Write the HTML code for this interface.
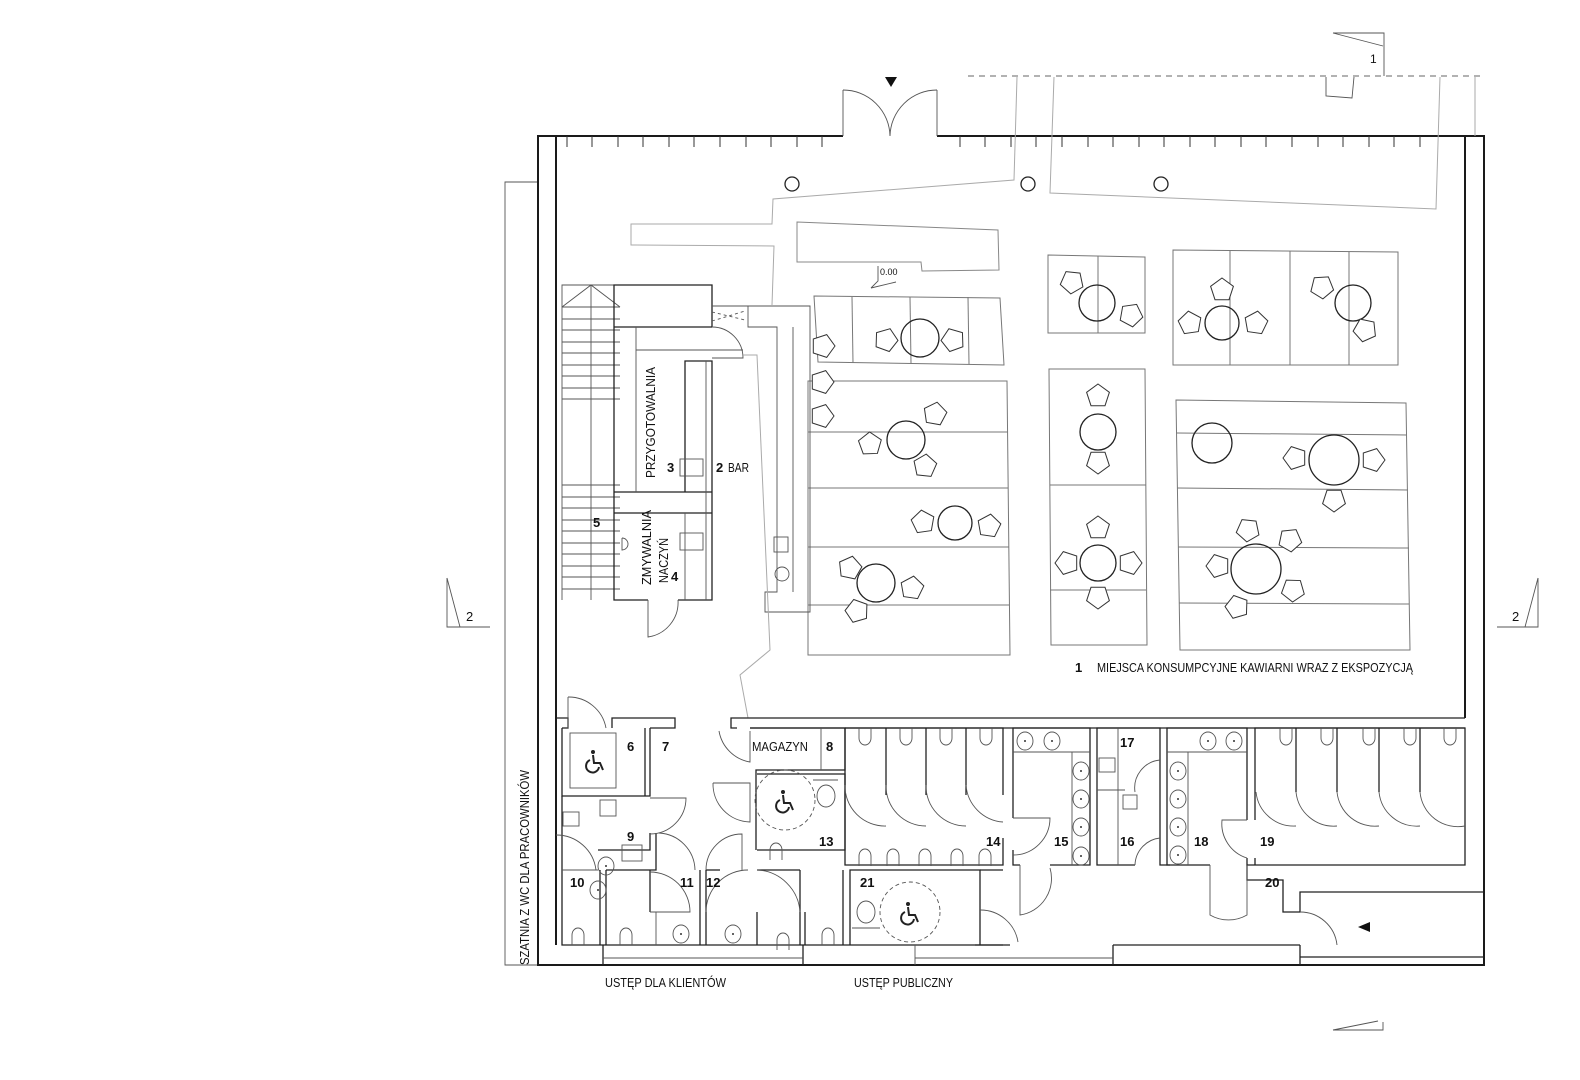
<!DOCTYPE html>
<html><head><meta charset="utf-8"><style>
html,body{margin:0;padding:0;background:#fff}
svg{display:block}
text{font-family:"Liberation Sans",sans-serif;fill:#111}
.w{stroke:#1a1a1a;stroke-width:2;fill:none}
.p{stroke:#222;stroke-width:1.3;fill:none}
.t{stroke:#555;stroke-width:0.9;fill:none}
.g{stroke:#aaa;stroke-width:1;fill:none}
.b{font-weight:bold;font-size:13px}
.n{font-size:13px}
</style></head><body>
<svg width="1580" height="1080" viewBox="0 0 1580 1080" xmlns="http://www.w3.org/2000/svg">
<defs>
<path id="pt" d="M0,-12 L11.4,-3.7 L7,9.7 L-7,9.7 L-11.4,-3.7Z" fill="#fff" stroke="#333" stroke-width="1"/>
<g id="wc"><path d="M-6,10 L-6,0 A6,7 0 0 1 6,0 L6,10" class="t"/></g>
<g id="wcu"><path d="M-6,-10 L-6,0 A6,7 0 0 0 6,0 L6,-10" class="t"/></g>
<g id="sink"><ellipse cx="0" cy="0" rx="8" ry="9" class="t"/><circle cx="0" cy="0" r="1" fill="#333"/></g>
<g id="wh" fill="none" stroke="#222" stroke-width="2">
<circle cx="-2" cy="-10" r="2" fill="#222" stroke="none"/>
<path d="M-2,-7 L-1,1 L5,1 L8,8"/>
<path d="M-5,-2 A6.5,6.5 0 1 0 4,5"/>
</g>
</defs>

<!-- section markers -->
<polyline class="t" points="1333,33 1384,33 1384,76"/><line class="t" x1="1333" y1="33" x2="1383" y2="46"/>
<text x="1370" y="63" font-size="12" fill="#555">1</text>
<line x1="968" y1="76" x2="1484" y2="76" stroke="#666" stroke-dasharray="6,5"/>
<polyline class="t" points="1326,77 1326,96 1352,98 1354,77"/>
<polyline class="t" points="447,578 447,627 490,627"/><line class="t" x1="447" y1="578" x2="460" y2="627"/>
<text x="466" y="621" font-size="13" fill="#555">2</text>
<polyline class="t" points="1538,578 1538,627 1497,627"/><line class="t" x1="1538" y1="578" x2="1525" y2="627"/>
<text x="1512" y="621" font-size="13" fill="#555">2</text>
<polyline class="t" points="1333,1030 1383,1030 1383,1022"/><line class="t" x1="1333" y1="1030" x2="1378" y2="1021"/>

<!-- bracket for staff -->
<polyline class="t" points="538,182 505,182 505,965 538,965"/>
<text transform="translate(529,965) rotate(-90)" font-size="13" textLength="195" lengthAdjust="spacingAndGlyphs">SZATNIA Z WC DLA PRACOWNIKÓW</text>

<!-- outer walls -->
<polyline class="w" points="843,136 538,136 538,965 1484,965 1484,136 937,136"/>
<line class="w" x1="556" y1="136" x2="556" y2="945"/>
<line class="w" x1="1465" y1="136" x2="1465" y2="718"/>
<line x1="843" y1="136" x2="843" y2="90" class="t"/><line x1="937" y1="136" x2="937" y2="90" class="t"/>
<path class="t" d="M843,90 A47,47 0 0 1 890,136 M937,90 A47,47 0 0 0 890,136"/>
<path d="M885,77 L897,77 L891,87Z" fill="#111"/>
<g stroke="#333" stroke-width="1">
<line x1="567" y1="136" x2="567" y2="147"/><line x1="592" y1="136" x2="592" y2="147"/><line x1="618" y1="136" x2="618" y2="147"/><line x1="643" y1="136" x2="643" y2="147"/><line x1="669" y1="136" x2="669" y2="147"/><line x1="694" y1="136" x2="694" y2="147"/><line x1="720" y1="136" x2="720" y2="147"/><line x1="746" y1="136" x2="746" y2="147"/><line x1="771" y1="136" x2="771" y2="147"/><line x1="797" y1="136" x2="797" y2="147"/><line x1="822" y1="136" x2="822" y2="147"/>
<line x1="960" y1="136" x2="960" y2="147"/><line x1="985" y1="136" x2="985" y2="147"/><line x1="1011" y1="136" x2="1011" y2="147"/><line x1="1036" y1="136" x2="1036" y2="147"/><line x1="1062" y1="136" x2="1062" y2="147"/><line x1="1088" y1="136" x2="1088" y2="147"/><line x1="1113" y1="136" x2="1113" y2="147"/><line x1="1139" y1="136" x2="1139" y2="147"/><line x1="1164" y1="136" x2="1164" y2="147"/><line x1="1190" y1="136" x2="1190" y2="147"/><line x1="1215" y1="136" x2="1215" y2="147"/><line x1="1241" y1="136" x2="1241" y2="147"/><line x1="1266" y1="136" x2="1266" y2="147"/><line x1="1292" y1="136" x2="1292" y2="147"/><line x1="1318" y1="136" x2="1318" y2="147"/><line x1="1343" y1="136" x2="1343" y2="147"/><line x1="1369" y1="136" x2="1369" y2="147"/><line x1="1394" y1="136" x2="1394" y2="147"/><line x1="1420" y1="136" x2="1420" y2="147"/>
</g>

<!-- gray exhibition lines -->
<polyline class="g" points="1017,77 1014,180 773,199 772,224 631,224 631,245 774,246 772,305"/>
<polyline class="g" points="1054,77 1050,193 1436,209 1440,77"/>
<line class="g" x1="1475" y1="77" x2="1475" y2="136"/>
<polygon class="g" points="797,222 998,230 999,270 922,271 921,262 797,262" style="stroke:#888"/>
<circle cx="792" cy="184" r="7" class="p"/><circle cx="1028" cy="184" r="7" class="p"/><circle cx="1161" cy="184" r="7" class="p"/>
<polyline class="t" points="871,288 878,281 878,266"/><line class="t" x1="871" y1="288" x2="896" y2="282"/>
<text x="880" y="275" font-size="9">0.00</text>

<!-- tables areas -->
<g class="g" style="stroke:#777">
<polygon points="814,296 1000,298 1004,365 818,362"/>
<line x1="852" y1="297" x2="853" y2="363"/><line x1="910" y1="297" x2="911" y2="363"/><line x1="968" y1="297" x2="969" y2="364"/>
<polygon points="808,381 1007,381 1010,655 808,655"/>
<line x1="808" y1="432" x2="1008" y2="432"/><line x1="808" y1="488" x2="1008" y2="488"/><line x1="808" y1="547" x2="1009" y2="547"/><line x1="808" y1="605" x2="1009" y2="605"/>
<polygon points="1048,255 1145,257 1145,333 1048,333"/><line x1="1098" y1="256" x2="1098" y2="333"/>
<polygon points="1173,250 1398,252 1398,365 1173,365"/>
<line x1="1230" y1="251" x2="1230" y2="365"/><line x1="1290" y1="251" x2="1290" y2="365"/><line x1="1349" y1="252" x2="1349" y2="365"/>
<polygon points="1049,369 1145,369 1147,645 1051,645"/><line x1="1050" y1="485" x2="1146" y2="485"/><line x1="1050" y1="590" x2="1146" y2="590"/>
<polygon points="1176,400 1406,403 1410,650 1180,650"/>
<line x1="1177" y1="433" x2="1407" y2="435"/><line x1="1177" y1="488" x2="1408" y2="490"/><line x1="1178" y1="547" x2="1409" y2="548"/><line x1="1179" y1="603" x2="1409" y2="604"/>
</g>
<g class="p" fill="#fff">
<circle cx="920" cy="338" r="19"/><circle cx="906" cy="440" r="19"/><circle cx="955" cy="523" r="17"/><circle cx="876" cy="583" r="19"/>
<circle cx="1097" cy="303" r="18"/><circle cx="1222" cy="323" r="17"/><circle cx="1353" cy="303" r="18"/>
<circle cx="1098" cy="432" r="18"/><circle cx="1098" cy="563" r="18"/>
<circle cx="1212" cy="443" r="20"/><circle cx="1334" cy="460" r="25"/><circle cx="1256" cy="569" r="25"/>
</g>
<g>
<use href="#pt" transform="translate(886,340) rotate(20)"/><use href="#pt" transform="translate(953,340) rotate(-20)"/><use href="#pt" transform="translate(823,346) rotate(90)"/>
<use href="#pt" transform="translate(822,382) rotate(90)"/><use href="#pt" transform="translate(822,416) rotate(90)"/>
<use href="#pt" transform="translate(870,444) rotate(70)"/><use href="#pt" transform="translate(935,414) rotate(10)"/><use href="#pt" transform="translate(925,466) rotate(150)"/>
<use href="#pt" transform="translate(923,522) rotate(-80)"/><use href="#pt" transform="translate(989,526) rotate(80)"/>
<use href="#pt" transform="translate(850,568) rotate(-60)"/><use href="#pt" transform="translate(912,588) rotate(80)"/><use href="#pt" transform="translate(857,611) rotate(200)"/>
<use href="#pt" transform="translate(1072,282) rotate(-30)"/><use href="#pt" transform="translate(1131,315) rotate(100)"/>
<use href="#pt" transform="translate(1222,290)"/><use href="#pt" transform="translate(1190,323) rotate(-80)"/><use href="#pt" transform="translate(1256,323) rotate(80)"/>
<use href="#pt" transform="translate(1322,287) rotate(-40)"/><use href="#pt" transform="translate(1365,330) rotate(120)"/>
<use href="#pt" transform="translate(1098,396)"/><use href="#pt" transform="translate(1098,462) rotate(180)"/><use href="#pt" transform="translate(1098,528)"/>
<use href="#pt" transform="translate(1067,563) rotate(-90)"/><use href="#pt" transform="translate(1130,563) rotate(90)"/><use href="#pt" transform="translate(1098,597) rotate(180)"/>
<use href="#pt" transform="translate(1295,458) rotate(-90)"/><use href="#pt" transform="translate(1373,460) rotate(90)"/><use href="#pt" transform="translate(1334,500) rotate(180)"/>
<use href="#pt" transform="translate(1248,530) rotate(-30)"/><use href="#pt" transform="translate(1290,540) rotate(30)"/><use href="#pt" transform="translate(1218,566) rotate(-90)"/>
<use href="#pt" transform="translate(1293,590) rotate(110)"/><use href="#pt" transform="translate(1237,607) rotate(200)"/>
</g>

<!-- stairs -->
<g class="t">
<polyline points="562,600 562,285 620,285"/>
<polyline points="562,307 591,285 620,307"/><line x1="591" y1="285" x2="591" y2="600"/>
<line x1="562" y1="307" x2="620" y2="307"/><line x1="562" y1="319" x2="620" y2="319"/><line x1="562" y1="330" x2="620" y2="330"/><line x1="562" y1="342" x2="620" y2="342"/><line x1="562" y1="353" x2="620" y2="353"/><line x1="562" y1="365" x2="620" y2="365"/><line x1="562" y1="376" x2="620" y2="376"/><line x1="562" y1="388" x2="620" y2="388"/><line x1="562" y1="399" x2="620" y2="399"/>
<line x1="562" y1="485" x2="620" y2="485"/><line x1="562" y1="497" x2="620" y2="497"/><line x1="562" y1="508" x2="620" y2="508"/><line x1="562" y1="520" x2="620" y2="520"/><line x1="562" y1="531" x2="620" y2="531"/><line x1="562" y1="543" x2="620" y2="543"/><line x1="562" y1="554" x2="620" y2="554"/><line x1="562" y1="566" x2="620" y2="566"/><line x1="562" y1="577" x2="620" y2="577"/><line x1="562" y1="589" x2="620" y2="589"/>
</g>
<!-- kitchen block -->
<g class="p">
<polyline points="712,327 712,285 614,285 614,600 648,600"/>
<polyline points="678,600 712,600 712,361 685,361 685,492"/>
<line x1="614" y1="327" x2="712" y2="327"/>
<line x1="614" y1="492" x2="712" y2="492"/><line x1="614" y1="513" x2="712" y2="513"/>
<line x1="706" y1="361" x2="706" y2="600" class="t"/>
</g>
<g class="t">
<line x1="636" y1="327" x2="636" y2="492"/><line x1="636" y1="350" x2="743" y2="350"/>
<line x1="685" y1="513" x2="685" y2="600"/>
<path d="M712,327 A31,31 0 0 1 743,358 L712,358"/>
<path d="M648,600 L648,637 A35,35 0 0 0 678,600"/>
<rect x="680" y="459" width="23" height="17"/><rect x="680" y="533" width="23" height="17"/>
<path d="M622,538 L622,550 A6,6 0 0 0 622,538"/>
<polyline points="712,306 810,306 810,612 765,612 765,592 777,592 777,327 748,327 748,306"/>
<line x1="793" y1="327" x2="793" y2="592"/>
<line x1="712" y1="312" x2="745" y2="320" stroke-dasharray="3,3"/><line x1="712" y1="321" x2="745" y2="311" stroke-dasharray="3,3"/>
<rect x="774" y="537" width="14" height="15"/><circle cx="782" cy="574" r="7"/>
</g>
<polyline class="g" points="743,355 757,355 770,650 740,675 748,718"/>
<text transform="translate(655,478) rotate(-90)" font-size="13" textLength="111" lengthAdjust="spacingAndGlyphs">PRZYGOTOWALNIA</text>
<text x="667" y="472" class="b">3</text><text x="716" y="472" class="b">2</text><text x="728" y="472" class="n" textLength="21" lengthAdjust="spacingAndGlyphs">BAR</text>
<text x="593" y="527" class="b">5</text>
<text transform="translate(651,585) rotate(-90)" font-size="13" textLength="75" lengthAdjust="spacingAndGlyphs">ZMYWALNIA</text>
<text transform="translate(668,583) rotate(-90)" font-size="13" textLength="45" lengthAdjust="spacingAndGlyphs">NACZYŃ</text>
<text x="671" y="581" class="b">4</text>
<text x="1075" y="672" class="b">1</text><text x="1097" y="672" class="n" textLength="316" lengthAdjust="spacingAndGlyphs">MIEJSCA KONSUMPCYJNE KAWIARNI WRAZ Z EKSPOZYCJĄ</text>

<!-- separation wall -->
<g class="p">
<polyline points="556,718 568,718 568,728 562,728"/>
<polyline points="612,728 612,718 675,718 675,728 650,728"/>
<polyline points="737,728 731,728 731,718 1465,718"/>
<line x1="750" y1="728" x2="1465" y2="728"/>
<polyline points="562,728 562,796 650,796 650,728"/><line x1="645" y1="728" x2="645" y2="796"/>
<polyline points="750,728 845,728 845,770 756,770 756,850"/>
<line x1="821" y1="728" x2="821" y2="770" class="t"/>
<polyline points="757,774 845,774 845,850 757,850"/>
<polyline points="845,728 1003,728 1003,795"/><polyline points="845,728 845,865 1003,865 1003,838"/>
<line x1="886" y1="728" x2="886" y2="795"/><line x1="926" y1="728" x2="926" y2="795"/><line x1="966" y1="728" x2="966" y2="795"/>
<polyline points="1013,818 1013,728 1090,728 1090,865 1050,865"/><polyline points="1013,850 1013,865 1020,865"/>
<polyline points="1135,865 1097,865 1097,728 1160,728 1160,865 1170,865"/>
<polyline points="1210,865 1167,865 1167,728 1247,728 1247,820"/>
<polyline points="1247,858 1247,865 1465,865 1465,728 1255,728 1255,820"/><line x1="1255" y1="858" x2="1255" y2="865"/>
<line x1="1296" y1="728" x2="1296" y2="792"/><line x1="1337" y1="728" x2="1337" y2="792"/><line x1="1379" y1="728" x2="1379" y2="792"/><line x1="1420" y1="728" x2="1420" y2="792"/>
<polyline points="1247,865 1247,880 1283,880 1283,912 1300,912 1300,892 1484,892"/>
<line x1="1300" y1="957" x2="1484" y2="957"/><line x1="1300" y1="945" x2="1300" y2="965"/>
<polyline points="562,796 562,945 1003,945"/>
<line x1="600" y1="870" x2="600" y2="945"/><line x1="606" y1="870" x2="606" y2="945"/>
<polyline points="598,850 650,850 650,833"/><polyline points="656,833 656,870 606,870"/>
<line x1="598" y1="870" x2="562" y2="870" class="t"/>
<line x1="650" y1="870" x2="650" y2="912"/><line x1="656" y1="912" x2="656" y2="945" class="t"/>
<polyline points="700,870 700,945"/><polyline points="706,870 706,945"/><line x1="706" y1="870" x2="720" y2="870"/>
<line x1="757" y1="870" x2="800" y2="870"/><line x1="757" y1="912" x2="757" y2="945"/><line x1="800" y1="870" x2="800" y2="945"/>
<line x1="805" y1="912" x2="805" y2="945"/><line x1="843" y1="870" x2="843" y2="945"/>
<polyline points="850,945 850,870 980,870 980,945"/>
<polyline points="980,870 1003,870"/>
<line x1="975" y1="945" x2="1010" y2="945"/>
<line x1="603" y1="945" x2="603" y2="965"/><line x1="803" y1="945" x2="803" y2="965"/><line x1="1113" y1="945" x2="1113" y2="965"/>
<line x1="1113" y1="945" x2="1300" y2="945"/>
</g>
<g class="t">
<line x1="603" y1="958" x2="803" y2="958"/><line x1="915" y1="958" x2="1113" y2="958"/><line x1="915" y1="945" x2="915" y2="965"/>
<path d="M568,697 L568,728 M568,697 A38,38 0 0 1 606,728"/>
<path d="M650,798 L686,798 A36,36 0 0 1 650,834"/>
<path d="M719,731 A38,38 0 0 0 750,762 L750,731"/>
<path d="M713,783 L750,783 L750,822 A38,38 0 0 1 713,783"/>
<path d="M556,835 A40,40 0 0 1 596,870"/>
<path d="M659,833 A38,38 0 0 1 695,870"/>
<path d="M706,870 A36,36 0 0 1 742,834 L742,870"/>
<path d="M650,912 L690,912 A40,40 0 0 0 650,872"/>
<path d="M706,912 A42,42 0 0 1 748,870"/>
<path d="M757,870 A45,45 0 0 1 800,912"/>
<path d="M845,785 A40,40 0 0 0 886,826"/><path d="M886,785 A40,40 0 0 0 926,826"/><path d="M926,785 A40,40 0 0 0 966,826"/><path d="M966,785 A40,40 0 0 0 1003,822"/>
<path d="M1013,818 L1050,818 A37,37 0 0 1 1013,855"/>
<path d="M1020,865 L1020,915 A37,37 0 0 0 1050,868"/>
<path d="M980,910 A38,38 0 0 1 1018,942"/>
<path d="M1135,792 A28,28 0 0 1 1160,760"/><path d="M1135,865 A28,28 0 0 1 1160,838"/>
<path d="M1210,865 L1210,915 A37,37 0 0 0 1247,915 L1247,865"/>
<path d="M1247,820 L1222,820 A36,36 0 0 0 1247,858"/>
<path d="M1256,792 A38,38 0 0 0 1296,826"/><path d="M1296,792 A38,38 0 0 0 1337,826"/><path d="M1337,792 A38,38 0 0 0 1379,826"/><path d="M1379,792 A38,38 0 0 0 1420,826"/><path d="M1420,792 A38,38 0 0 0 1465,826"/>
<path d="M1300,912 A37,37 0 0 1 1337,945"/>
<rect x="570" y="733" width="46" height="55"/>
<rect x="600" y="800" width="16" height="16"/><rect x="563" y="812" width="16" height="14"/><rect x="622" y="845" width="20" height="16"/>
<line x1="1013" y1="752" x2="1090" y2="752"/><line x1="1072" y1="752" x2="1072" y2="865"/>
<line x1="1097" y1="790" x2="1125" y2="790"/><line x1="1118" y1="728" x2="1118" y2="865"/><rect x="1099" y="758" width="16" height="14"/><rect x="1123" y="795" width="14" height="14"/>
<line x1="1167" y1="752" x2="1247" y2="752"/><line x1="1188" y1="752" x2="1188" y2="865"/>
<line x1="813" y1="780" x2="838" y2="780"/><line x1="852" y1="928" x2="880" y2="928"/>
<circle cx="785" cy="800" r="30" stroke-dasharray="4,3"/><circle cx="910" cy="912" r="30" stroke-dasharray="4,3"/>
<ellipse cx="826" cy="796" rx="9" ry="11"/><ellipse cx="866" cy="912" rx="9" ry="11"/>
</g>
<g>
<use href="#wcu" transform="translate(865,738)"/><use href="#wcu" transform="translate(906,738)"/><use href="#wcu" transform="translate(946,738)"/><use href="#wcu" transform="translate(986,738)"/>
<use href="#wcu" transform="translate(1286,738)"/><use href="#wcu" transform="translate(1327,738)"/><use href="#wcu" transform="translate(1369,738)"/><use href="#wcu" transform="translate(1410,738)"/><use href="#wcu" transform="translate(1450,738)"/>
<use href="#wc" transform="translate(865,856)"/><use href="#wc" transform="translate(893,856)"/><use href="#wc" transform="translate(925,856)"/><use href="#wc" transform="translate(957,856)"/><use href="#wc" transform="translate(985,856)"/>
<use href="#wc" transform="translate(578,935)"/><use href="#wc" transform="translate(626,935)"/><use href="#wc" transform="translate(828,935)"/><use href="#wc" transform="translate(776,850)"/><use href="#wc" transform="translate(783,940)"/>
<use href="#sink" transform="translate(1025,741)"/><use href="#sink" transform="translate(1052,741)"/>
<use href="#sink" transform="translate(1081,771)"/><use href="#sink" transform="translate(1081,799)"/><use href="#sink" transform="translate(1081,827)"/><use href="#sink" transform="translate(1081,856)"/>
<use href="#sink" transform="translate(1208,741)"/><use href="#sink" transform="translate(1234,741)"/>
<use href="#sink" transform="translate(1178,771)"/><use href="#sink" transform="translate(1178,799)"/><use href="#sink" transform="translate(1178,827)"/><use href="#sink" transform="translate(1178,855)"/>
<use href="#sink" transform="translate(681,934)"/><use href="#sink" transform="translate(733,934)"/><use href="#sink" transform="translate(606,866)"/><use href="#sink" transform="translate(598,890)"/>
<use href="#wh" transform="translate(595,762)"/><use href="#wh" transform="translate(785,802)"/><use href="#wh" transform="translate(910,914)"/>
</g>
<path d="M1358,927 L1370,922 L1370,932Z" fill="#111"/>
<g class="b">
<text x="627" y="751">6</text><text x="662" y="751">7</text><text x="826" y="751">8</text>
<text x="627" y="841">9</text><text x="570" y="887">10</text><text x="680" y="887">11</text><text x="706" y="887">12</text>
<text x="819" y="846">13</text><text x="986" y="846">14</text><text x="1054" y="846">15</text><text x="1120" y="846">16</text>
<text x="1120" y="747">17</text><text x="1194" y="846">18</text><text x="1260" y="846">19</text><text x="1265" y="887">20</text><text x="860" y="887">21</text>
</g>
<text x="752" y="751" class="n" textLength="56" lengthAdjust="spacingAndGlyphs">MAGAZYN</text>
<text x="605" y="987" class="n" textLength="121" lengthAdjust="spacingAndGlyphs">USTĘP DLA KLIENTÓW</text>
<text x="854" y="987" class="n" textLength="99" lengthAdjust="spacingAndGlyphs">USTĘP PUBLICZNY</text>
</svg>
</body></html>
